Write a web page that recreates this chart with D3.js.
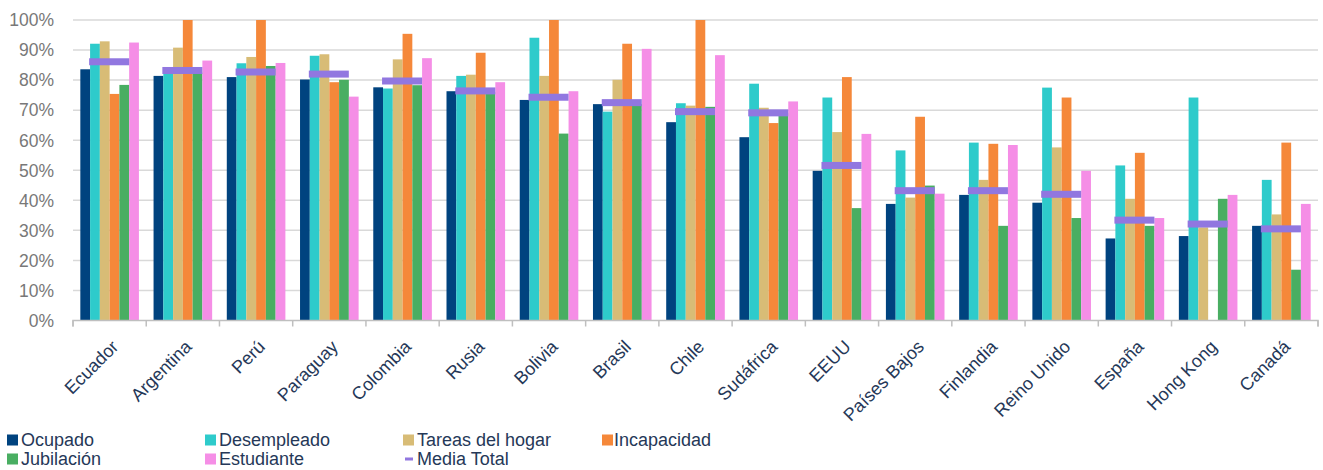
<!DOCTYPE html>
<html><head><meta charset="utf-8">
<script src="https://cdn.jsdelivr.net/npm/d3@7"></script>
<style>body{margin:0;background:#fff}svg{display:block;font-family:"Liberation Sans",Arial,sans-serif}</style>
</head><body><svg id="c" width="1323" height="470"></svg>
<script>
const categories = ["Ecuador","Argentina","Perú","Paraguay","Colombia","Rusia","Bolivia","Brasil","Chile","Sudáfrica","EEUU","Países Bajos","Finlandia","Reino Unido","España","Hong Kong","Canadá"];
const seriesNames = ["Ocupado","Desempleado","Tareas del hogar","Incapacidad","Jubilación","Estudiante"];
const ocupado     = [83.6,81.4,81.0,80.2,77.6,76.3,73.4,72.0,66.0,61.0,49.8,38.8,41.8,39.2,27.3,28.1,31.5];
const desempleado = [92.1,83.0,85.6,88.1,77.2,81.4,94.1,69.5,72.3,78.8,74.2,56.6,59.2,77.5,51.6,74.2,46.8];
const tareas      = [92.9,90.8,87.7,88.6,86.9,81.8,81.4,80.1,71.5,70.8,62.7,40.9,46.8,57.6,40.5,31.0,35.3];
const incapacidad = [75.4,100,100,79.3,95.4,89.1,100,92.1,100,65.7,81.0,67.8,58.8,74.2,55.8,null,59.2];
const jubilacion  = [78.4,82.5,84.7,80.1,78.3,76.0,62.2,72.0,71.1,69.0,37.4,44.9,31.5,34.1,31.5,40.5,16.9];
const estudiante  = [92.5,86.5,85.7,74.5,87.3,79.3,76.3,90.4,88.3,72.9,62.1,42.2,58.4,49.8,34.1,41.8,38.8];
const mediaTotal  = [86.1,83.2,82.7,82.0,79.7,76.4,74.3,72.5,69.5,69.1,51.6,43.2,43.2,42.0,33.4,32.1,30.5];
const yTicks = [0,10,20,30,40,50,60,70,80,90,100];
const colors = ["#00437F","#2ECBCB","#D8BC76","#F5883A","#49AE62","#F58EE6"];
const mediaColor = "#9177E0";
const textColor = "#253858";

const seriesValues = [ocupado,desempleado,tareas,incapacidad,jubilacion,estudiante];
const svg = d3.select("#c");
const x = d3.scaleBand().domain(categories).range([73,1318]).padding(0);
const bw = x.bandwidth();
const xs = d3.scaleBand().domain(seriesNames).range([bw*0.1,bw*0.9]).padding(0);
const y = d3.scaleLinear().domain([0,100]).range([320.5,20]);

// gridlines
svg.append("g").selectAll("line").data(yTicks.filter(d=>d>0)).join("line")
  .attr("x1",73).attr("x2",1318).attr("y1",d=>y(d)).attr("y2",d=>y(d))
  .attr("stroke","#d9d9d9").attr("stroke-width",1.5);

// y tick labels
svg.append("g").selectAll("text").data(yTicks).join("text")
  .attr("x",54).attr("y",d=>y(d)).attr("dy","0.36em").attr("text-anchor","end")
  .attr("fill","#787878").style("font-size","17.5px").text(d=>d+"%");

// bars
const g = svg.append("g");
seriesNames.forEach((s,si)=>{
  g.append("g").selectAll("rect").data(categories.map((c,i)=>({c,v:seriesValues[si][i]})).filter(d=>d.v!=null))
   .join("rect")
   .attr("x",d=>x(d.c)+xs(s)).attr("width",xs.bandwidth())
   .attr("y",d=>y(d.v)).attr("height",d=>y(0)-y(d.v))
   .attr("fill",colors[si]);
});

// axis
const xAxis = d3.axisBottom(x).tickSize(6).tickFormat("");
const ax = svg.append("g").attr("transform",`translate(0,${y(0)})`).call(xAxis);
ax.selectAll(".tick").remove();
ax.select(".domain").attr("stroke","#bfbfbf").attr("stroke-width",1.5).attr("d",`M73,6V0H1318V6`);
ax.selectAll(".bt").data(categories.concat([null])).join("line").attr("class","bt")
  .attr("x1",(d,i)=>73+i*bw).attr("x2",(d,i)=>73+i*bw).attr("y1",0).attr("y2",6)
  .attr("stroke","#bfbfbf").attr("stroke-width",1.5);

// media total
svg.append("g").selectAll("rect").data(categories.map((c,i)=>({c,v:mediaTotal[i]}))).join("rect")
  .attr("x",d=>x(d.c)+bw/2-20.5).attr("width",40).attr("y",d=>y(d.v)-3.5).attr("height",7)
  .attr("fill",mediaColor);

// category labels
svg.append("g").selectAll("text").data(categories).join("text")
  .attr("transform",d=>`translate(${x(d)+bw/2+2},340) rotate(-45)`)
  .attr("text-anchor","end").attr("dy","0.62em")
  .attr("fill",textColor).style("font-size","18px").text(d=>d);

// legend
const legendItems = [
  {name:"Ocupado",color:colors[0],x:7,y:440},
  {name:"Desempleado",color:colors[1],x:205,y:440},
  {name:"Tareas del hogar",color:colors[2],x:403,y:440},
  {name:"Incapacidad",color:colors[3],x:602,y:440},
  {name:"Jubilación",color:colors[4],x:7,y:459},
  {name:"Estudiante",color:colors[5],x:205,y:459},
  {name:"Media Total",color:mediaColor,x:403,y:459,line:true}
];
const lg = svg.append("g").selectAll("g").data(legendItems).join("g")
  .attr("transform",d=>`translate(${d.x},${d.y})`);
lg.each(function(d){
  const s = d3.select(this);
  if(d.line) s.append("rect").attr("x",2).attr("y",-1.5).attr("width",8).attr("height",3).attr("fill",d.color);
  else s.append("rect").attr("x",0).attr("y",-5.5).attr("width",11).attr("height",11).attr("fill",d.color);
  s.append("text").attr("x",d.name==="Incapacidad"?12:14).attr("dy","0.36em").attr("fill",textColor)
   .style("font-size","18px").text(d.name);
});
</script></body></html>
